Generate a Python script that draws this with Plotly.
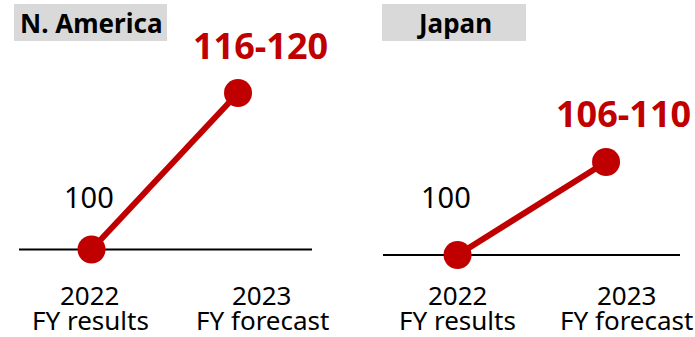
import plotly.graph_objects as go

categories = ["2022", "2023"]
cat_sub = ["FY results", "FY forecast"]
na_values = [100, 118]
na_labels = ["100", "116-120"]
jp_values = [100, 108]
jp_labels = ["100", "106-110"]
titles = ["N. America", "Japan"]

RED = "#C00000"
FONT = "Noto Sans"
W, H = 695, 337

fig = go.Figure()
xs = [0, 1]
fig.add_trace(go.Scatter(x=xs, y=na_values, mode="lines+markers", xaxis="x", yaxis="y",
                         line=dict(color=RED, width=6), marker=dict(color=RED, size=28),
                         cliponaxis=False, showlegend=False, hoverinfo="skip"))
fig.add_trace(go.Scatter(x=xs, y=jp_values, mode="lines+markers", xaxis="x2", yaxis="y2",
                         line=dict(color=RED, width=6), marker=dict(color=RED, size=28),
                         cliponaxis=False, showlegend=False, hoverinfo="skip"))

ax_common = dict(visible=False, showgrid=False, zeroline=False, fixedrange=True)
fig.update_layout(
    width=W, height=H,
    margin=dict(l=0, r=0, t=0, b=0),
    paper_bgcolor="white", plot_bgcolor="rgba(0,0,0,0)",
    xaxis=dict(domain=[19 / W, 312 / W], range=[-0.495, 1.505], **ax_common),
    yaxis=dict(domain=[0, 1], range=[89.935, 128.697], **ax_common),
    xaxis2=dict(domain=[383 / W, 680 / W], range=[-0.502, 1.498], **ax_common),
    yaxis2=dict(domain=[0, 1], range=[92.946, 121.935], anchor="x2", **ax_common),
    font=dict(family=FONT, color="black"),
)
fig.layout.xaxis2.anchor = "y2"

shapes = []
annos = []
panels = [("x", "y", na_values, na_labels, [(-3, 53), (22, 48)], (14, 167)),
          ("x2", "y2", jp_values, jp_labels, [(-12, 59), (17, 49)], (382, 526))]
for i, (xr, yr, vals, labs, offs, box) in enumerate(panels):
    shapes.append(dict(type="line", xref=f"{xr} domain", yref=yr, x0=0, x1=1,
                       y0=vals[0], y1=vals[0], line=dict(color="black", width=2), layer="below"))
    shapes.append(dict(type="rect", xref="paper", yref="paper", x0=box[0] / W, x1=box[1] / W,
                       y0=1 - 41 / H, y1=1 - 4 / H, fillcolor="#D9D9D9", line=dict(width=0),
                       layer="below"))
    annos.append(dict(xref="paper", yref="paper", x=(box[0] + box[1]) / 2 / W, y=1 - 22.5 / H,
                      text=f"<b>{titles[i]}</b>", showarrow=False, xanchor="center", yanchor="middle",
                      font=dict(size=26, family=FONT, color="black")))
    for j in range(2):
        if j == 0:
            f = dict(size=29, family=FONT, color="black")
            t = labs[j]
        else:
            f = dict(size=36, family=FONT, color=RED)
            t = f"<b>{labs[j]}</b>"
        annos.append(dict(xref=xr, yref=yr, x=xs[j], y=vals[j], text=t, showarrow=False,
                          xshift=offs[j][0], yshift=offs[j][1], xanchor="center", yanchor="middle",
                          font=f))
    lab_x = [-0.01, 1.165] if i == 0 else [0, 1.14]
    for j in range(2):
        for k, (txt, ypx) in enumerate([(categories[j], 295), (cat_sub[j], 320)]):
            annos.append(dict(xref=xr, yref="paper", x=lab_x[j], y=1 - ypx / H,
                              text=txt, showarrow=False, borderpad=0,
                              xanchor="center", yanchor="middle",
                              font=dict(size=26, family=FONT, color="black")))

fig.update_layout(shapes=shapes, annotations=annos)
fig.write_html("out.html", config={"displayModeBar": False},
               post_script="document.body.style.margin='0';")
